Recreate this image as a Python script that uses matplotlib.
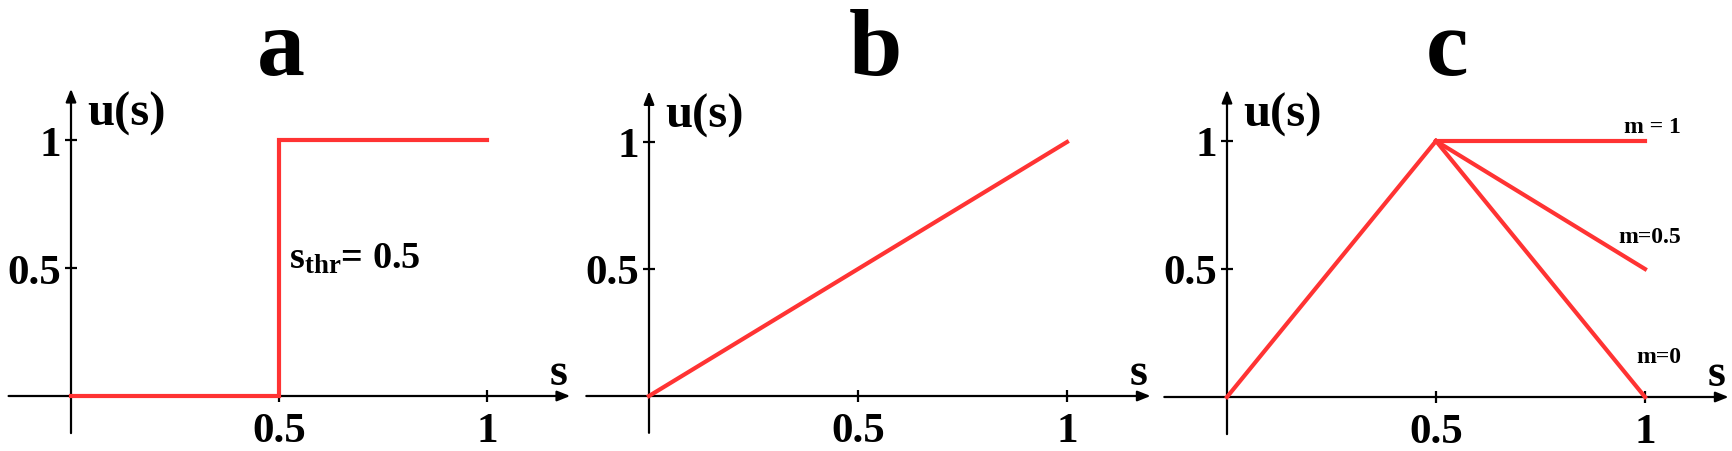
import matplotlib
matplotlib.use("Agg")
import matplotlib.pyplot as plt

# --- data -------------------------------------------------------------
# panel a: threshold step
step_s = [0, 0.5, 0.5, 1]
step_u = [0, 0, 1, 1]
s_thr = 0.5

# panel b: linear
lin_s = [0, 1]
lin_u = [0, 1]

# panel c: rise to peak, then falls to u(1) = m
peak_s = [0, 0.5]
peak_u = [0, 1]
m_values = [1, 0.5, 0]
m_labels = ["m = 1", "m=0.5", "m=0"]
m_label_y = [1.035, 0.605, 0.137]

panel_titles = ["a", "b", "c"]
tick_vals = [0.5, 1]
tick_labels = ["0.5", "1"]

# --- style ------------------------------------------------------------
RED = "#ff3333"
plt.rcParams["font.family"] = ["Liberation Serif", "DejaVu Serif"]
plt.rcParams["font.weight"] = "bold"
plt.rcParams["mathtext.fontset"] = "custom"
plt.rcParams["mathtext.rm"] = "Liberation Serif:bold"
plt.rcParams["mathtext.it"] = "Liberation Serif:bold"
plt.rcParams["mathtext.bf"] = "Liberation Serif:bold"

W, H = 1733, 452
fig = plt.figure(figsize=(W / 100, H / 100), dpi=100)

# origin pixel (from top-left) and pixels per data unit for each panel
panels = [
    dict(ox=71, oy=397, xu=416, yu=256, tx=281),
    dict(ox=649, oy=397, xu=418, yu=254, tx=875),
    dict(ox=1227, oy=398, xu=418, yu=256, tx=1447),
]
XLIM = (-0.2, 1.3)
YLIM = (-0.2, 1.3)


def make_axes(p):
    left = p["ox"] + XLIM[0] * p["xu"]
    width = (XLIM[1] - XLIM[0]) * p["xu"]
    bottom = (H - p["oy"]) + YLIM[0] * p["yu"]
    height = (YLIM[1] - YLIM[0]) * p["yu"]
    ax = fig.add_axes([left / W, bottom / H, width / W, height / H])
    ax.set_xlim(*XLIM)
    ax.set_ylim(*YLIM)
    ax.patch.set_visible(False)
    for sp in ax.spines.values():
        sp.set_visible(False)
    ax.spines["left"].set_position(("data", 0))
    ax.spines["bottom"].set_position(("data", 0))

    # axis lines with arrow heads
    arrow = dict(arrowstyle="-|>,head_length=0.55,head_width=0.22",
                 color="black", lw=1.6, mutation_scale=14,
                 shrinkA=0, shrinkB=0)
    ax.annotate("", xy=(1.2, 0), xytext=(-0.15, 0),
                arrowprops=arrow, annotation_clip=False)
    ax.annotate("", xy=(0, 1.2), xytext=(0, -0.145),
                arrowprops=arrow, annotation_clip=False)

    ax.set_xticks(tick_vals)
    ax.set_xticklabels(tick_labels)
    ax.set_yticks(tick_vals)
    ax.set_yticklabels(tick_labels)
    ax.tick_params(axis="both", direction="inout", length=9, width=1.6,
                   labelsize=31)
    ax.tick_params(axis="x", pad=7)
    ax.tick_params(axis="y", pad=2.5)
    for lab in ax.get_xticklabels() + ax.get_yticklabels():
        lab.set_fontweight("bold")

    ax.text(0.038, 1.06, "u(s)", fontsize=35, fontweight="bold",
            ha="left", va="baseline")
    ax.text(1.151, 0.047, "s", fontsize=33, fontweight="bold",
            ha="left", va="baseline")
    return ax


axes = [make_axes(p) for p in panels]
for p, t in zip(panels, panel_titles):
    fig.text(p["tx"] / W, 1 - 75 / H, t, fontsize=69, fontweight="bold",
             ha="center", va="baseline")

# panel a
ax = axes[0]
ax.plot(step_s, step_u, color=RED, lw=3, solid_joinstyle="miter", zorder=3)
ax.text(s_thr + 0.025, 0.5, r"$\mathrm{s_{thr}}$= 0.5", fontsize=27.5,
        fontweight="bold", ha="left", va="baseline")

# panel b
ax = axes[1]
ax.plot(lin_s, lin_u, color=RED, lw=3, zorder=3)

# panel c
ax = axes[2]
ax.plot(peak_s, peak_u, color=RED, lw=3, zorder=3)
for m in m_values:
    ax.plot([peak_s[-1], 1], [peak_u[-1], m], color=RED, lw=3, zorder=3)
for lab, y in zip(m_labels, m_label_y):
    ax.text(1.086, y, lab, fontsize=17, fontweight="bold",
            ha="right", va="baseline")

fig.savefig("out.png", dpi=100)
